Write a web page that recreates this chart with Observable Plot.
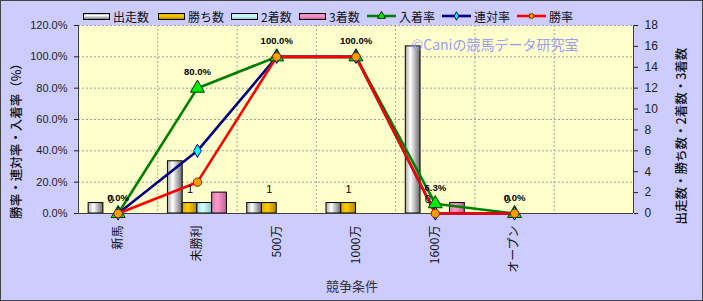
<!DOCTYPE html>
<html><head><meta charset="utf-8">
<script src="https://cdn.jsdelivr.net/npm/d3@7"></script>
<script src="https://cdn.jsdelivr.net/npm/@observablehq/plot@0.6"></script>
<style>
html,body{margin:0;padding:0;background:#ccccff;}
#wrap{position:relative;width:703px;height:301px;overflow:hidden;background:#ccccff;font-family:"Liberation Sans","Noto Sans CJK JP",sans-serif;}
#wrap > svg{position:absolute;left:0;top:0;}
.ov{position:absolute;white-space:nowrap;line-height:1;}
.leg{position:absolute;top:9px;height:14px;display:flex;align-items:center;font-size:12px;color:#111;font-family:"Noto Sans CJK JP",sans-serif;}
.leg svg{margin-right:3px;}
#border{position:absolute;left:0;top:0;width:703px;height:301px;box-sizing:border-box;border:1px solid #444;pointer-events:none;}
</style>
</head><body>
<div id="wrap"></div>
<script>
const categories = ["新馬","未勝利","500万","1000万","1600万","オープン"];
const slotCount = 7;
const starts  = [1, 5, 1, 1, 16, 0];
const wins    = [0, 1, 1, 1, 0, 0];
const seconds = [0, 1, 0, 0, 0, 0];
const thirds  = [0, 2, 0, 0, 1, 0];
const placeRate  = [0, 80, 100, 100, 6.25, 0];
const rentaiRate = [0, 40, 100, 100, 0, 0];
const winRate    = [0, 20, 100, 100, 0, 0];
const leftTicks  = [0, 20, 40, 60, 80, 100, 120];
const rightTicks = [0, 2, 4, 6, 8, 10, 12, 14, 16, 18];
const barSeries  = ["出走数", "勝ち数", "2着数", "3着数"];
const lineSeries = ["入着率", "連対率", "勝率"];

const K = 120 / 18;       // count -> percent-axis factor
const BW = 0.186;         // bar width in category units
const idx = categories.map((c, i) => i);

const gradients = [
  [[0, "#a8a8a8"], [0.35, "#ffffff"], [1, "#686868"]],
  [[0, "#d8a800"], [0.4, "#ffcc00"], [1, "#b08400"]],
  [[0, "#a0dcdc"], [0.4, "#d8ffff"], [1, "#88c4c4"]],
  [[0, "#dd80b0"], [0.4, "#ff9acc"], [1, "#c06090"]]
];

const barArrays = [starts, wins, seconds, thirds];
const barMarks = barArrays.map((arr, k) =>
  Plot.rect(idx.filter(i => arr[i] > 0), {
    x1: i => i + 0.5 + (k - 2) * BW,
    x2: i => i + 0.5 + (k - 1) * BW,
    y1: 0,
    y2: i => arr[i] * K,
    fill: `url(#bg${k})`,
    stroke: "#000",
    strokeWidth: 1
  })
);

const lineDefs = [
  {vals: placeRate, stroke: "#008000", symbol: "triangle", fill: "#00ee00", mstroke: "#003300", r: 5.2},
  {vals: rentaiRate, stroke: "#000080", symbol: "diamond", fill: "#00ffff", mstroke: "#000080", r: 4},
  {vals: winRate, stroke: "#ff0000", symbol: "circle", fill: "#ff9900", mstroke: "#663300", r: 4.2}
];

const svg = Plot.plot({
  width: 703,
  height: 301,
  marginLeft: 78,
  marginRight: 70,
  marginTop: 25,
  marginBottom: 88,
  style: {background: "transparent", fontFamily: "'Liberation Sans','Noto Sans CJK JP',sans-serif", fontSize: "11px", color: "#222"},
  x: {type: "linear", domain: [0, slotCount]},
  y: {domain: [0, 120]},
  marks: [
    Plot.frame({fill: "#ffffcc", stroke: "none"}),
    Plot.ruleY(leftTicks.filter(d => d > 0), {stroke: "#a0a0a0", strokeDasharray: "2,2", strokeWidth: 1}),
    Plot.ruleX(d3.range(1, slotCount), {stroke: "#a0a0a0", strokeDasharray: "2,2", strokeWidth: 1}),
    ...barMarks,
    Plot.ruleX([0, slotCount], {stroke: "#404040", strokeWidth: 1}),
    Plot.ruleY([0], {stroke: "#404040", strokeWidth: 1}),
    ...lineDefs.map(L => Plot.line(idx, {x: i => i + 0.5, y: i => L.vals[i], stroke: L.stroke, strokeWidth: 2.6})),
    ...lineDefs.map(L => Plot.dot(idx, {x: i => i + 0.5, y: i => L.vals[i], symbol: L.symbol, fill: L.fill, stroke: L.mstroke, strokeWidth: 1, r: L.r})),
    Plot.text(idx, {x: i => i + 0.5 - BW / 2, y: i => wins[i] * K, text: i => String(wins[i]), dy: -14, fontSize: 11, fill: "#000"}),
    Plot.text(idx, {x: i => i + 0.5, y: i => placeRate[i], text: i => placeRate[i].toFixed(1) + "%", dy: -16, fontSize: 9.5, fontWeight: "bold", fill: "#000"}),
    Plot.axisY({ticks: leftTicks, anchor: "left", tickFormat: d => d.toFixed(1) + "%", tickSize: 4, tickPadding: 7, label: null, fontSize: 11}),
    Plot.axisY({ticks: rightTicks.map(v => v * K), anchor: "right", tickFormat: d => String(Math.round(d / K)), tickSize: 4, tickPadding: 7, label: null, fontSize: 12}),
    Plot.axisX({ticks: idx.map(i => i + 0.5), tickFormat: d => categories[Math.floor(d)], tickRotate: -90, tickSize: 0, tickPadding: 12, label: null, fontSize: 12, fontFamily: "'Noto Sans CJK JP',sans-serif", fill: "#111"})
  ]
});

// gradient definitions for the cylinder-like bars
const defs = d3.select(svg).insert("defs", ":first-child");
gradients.forEach((stops, k) => {
  const g = defs.append("linearGradient").attr("id", `bg${k}`).attr("x1", 0).attr("x2", 1).attr("y1", 0).attr("y2", 0);
  stops.forEach(([o, c]) => g.append("stop").attr("offset", o).attr("stop-color", c));
});

const wrap = document.getElementById("wrap");
wrap.appendChild(svg);

// Legend
const legendLeft = [83, 158, 231, 299, 367, 442, 517];
const NS = "http://www.w3.org/2000/svg";
function swatchBar(k) {
  return `<svg width="27" height="9" xmlns="${NS}"><defs><linearGradient id="lg${k}" x1="0" x2="0" y1="0" y2="1">${gradients[k].map(([o,c]) => `<stop offset="${o}" stop-color="${c}"/>`).join("")}</linearGradient></defs><rect x="0.5" y="1.5" width="26" height="6" fill="url(#lg${k})" stroke="#000"/></svg>`;
}
function swatchLine(L) {
  const sym = d3.symbol(L.symbol === "triangle" ? d3.symbolTriangle : L.symbol === "diamond" ? d3.symbolDiamond : d3.symbolCircle, L.symbol === "triangle" ? 28 : 20)();
  return `<svg width="29" height="10" xmlns="${NS}"><line x1="0" x2="29" y1="5" y2="5" stroke="${L.stroke}" stroke-width="2.6"/><path d="${sym}" transform="translate(14.5,5)" fill="${L.fill}" stroke="${L.mstroke}" stroke-width="1"/></svg>`;
}
const legendItems = [
  ...barSeries.map((name, k) => ({name, html: swatchBar(k)})),
  ...lineSeries.map((name, k) => ({name, html: swatchLine(lineDefs[k])}))
];
legendItems.forEach((it, j) => {
  const d = document.createElement("div");
  d.className = "leg";
  d.style.left = legendLeft[j] + "px";
  d.innerHTML = it.html + `<span>${it.name}</span>`;
  wrap.appendChild(d);
});

// Titles and watermark
function addText(txt, cx, cy, css, rot) {
  const d = document.createElement("div");
  d.className = "ov";
  d.textContent = txt;
  Object.assign(d.style, css);
  d.style.left = cx + "px";
  d.style.top = cy + "px";
  d.style.transform = `translate(-50%,-50%)` + (rot ? ` rotate(${rot}deg)` : "");
  wrap.appendChild(d);
}
addText("勝率・連対率・入着率（%）", 16, 138, {fontSize: "12.5px", color: "#111", fontFamily: "'Noto Sans CJK JP',sans-serif", fontWeight: "500"}, -90);
addText("出走数・勝ち数・2着数・3着数", 681, 136, {fontSize: "12.5px", color: "#111", fontFamily: "'Noto Sans CJK JP',sans-serif", fontWeight: "500"}, -90);
addText("競争条件", 352, 285, {fontSize: "13px", color: "#333", fontFamily: "'Noto Sans CJK JP',sans-serif"});
addText("©Caniの競馬データ研究室", 495, 44, {fontSize: "14px", color: "#9c9cf4", fontFamily: "'Noto Sans CJK JP',sans-serif"});

const b = document.createElement("div");
b.id = "border";
wrap.appendChild(b);
</script>
</body></html>
